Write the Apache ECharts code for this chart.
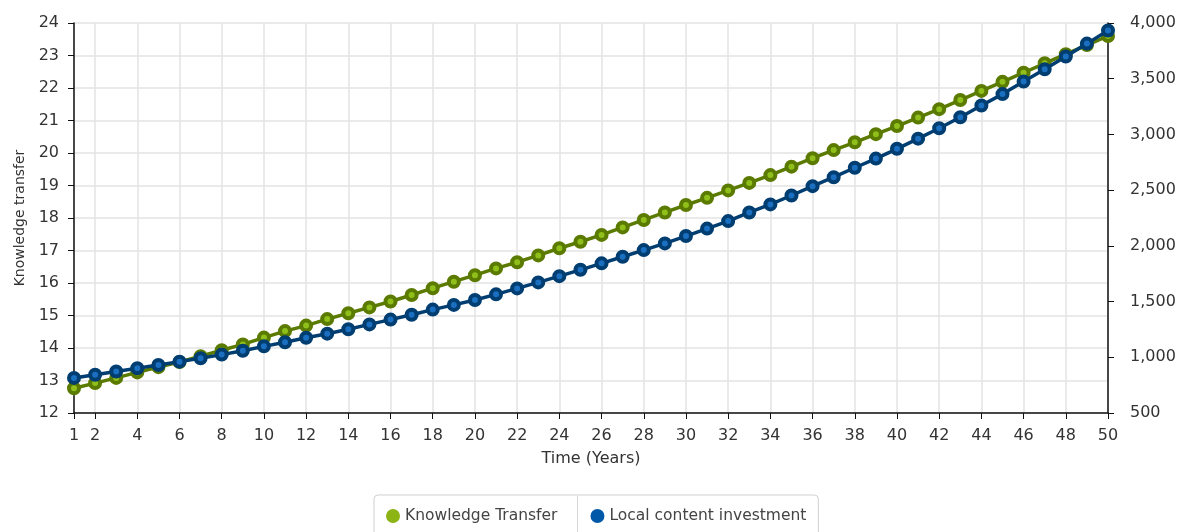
<!DOCTYPE html>
<html>
<head>
<meta charset="utf-8">
<title>Knowledge transfer vs local content investment</title>
<script src="https://cdn.jsdelivr.net/npm/echarts@6/dist/echarts.min.js"></script>
<style>
  html, body { margin: 0; padding: 0; background: #fff; }
  #chart { width: 1189px; height: 532px; }
</style>
</head>
<body>
<div id="chart"></div>
<script>
// data
const years = [];
for (let y = 1; y <= 50; y++) years.push(String(y));

const knowledgeTransfer = [
  12.76, 12.92, 13.08, 13.25, 13.41, 13.57, 13.75, 13.93, 14.11, 14.32,
  14.52, 14.69, 14.89, 15.07, 15.25, 15.43, 15.63, 15.84, 16.04, 16.24,
  16.45, 16.64, 16.85, 17.07, 17.27, 17.48, 17.71, 17.94, 18.17, 18.40,
  18.62, 18.85, 19.08, 19.32, 19.58, 19.84, 20.09, 20.33, 20.58, 20.83,
  21.09, 21.35, 21.63, 21.91, 22.19, 22.47, 22.76, 23.04, 23.32, 23.60
];

const localContent = [
  815, 843, 872, 901, 931, 961, 992, 1024, 1058, 1098,
  1135, 1175, 1212, 1252, 1295, 1338, 1382, 1428, 1470, 1514,
  1565, 1618, 1672, 1728, 1785, 1843, 1902, 1962, 2022, 2088,
  2155, 2222, 2300, 2372, 2452, 2536, 2616, 2701, 2783, 2871,
  2962, 3055, 3154, 3259, 3362, 3474, 3584, 3700, 3815, 3933
];

const fontFamily = "'DejaVu Sans', sans-serif";
const labelColor = "#333";
const gridColor = "#e3e3e3";

// show 1 and the even years
const everyOther = (i) => i === 0 || (i + 1) % 2 === 0;

const chart = echarts.init(document.getElementById("chart"));

const option = {
  animation: false,
  textStyle: { fontFamily: fontFamily },
  grid: {
    left: 74,
    right: 81,
    top: 23,
    bottom: 119,
  },
  legend: {
    left: 374,
    top: 495,
    padding: [13, 12, 16, 12],
    itemGap: 33,
    icon: "circle",
    itemWidth: 14,
    itemHeight: 14,
    borderColor: "#cfcfcf",
    borderWidth: 1,
    borderRadius: 4,
    textStyle: { fontSize: 15.5, color: "#444", fontFamily: fontFamily },
    data: [
      { name: "Knowledge Transfer", itemStyle: { color: "#8cb414", borderWidth: 0 } },
      { name: "Local content investment", itemStyle: { color: "#0058a8", borderWidth: 0 } },
    ],
  },
  graphic: [
    {
      type: "line",
      shape: { x1: 577.5, y1: 496, x2: 577.5, y2: 532 },
      style: { stroke: "#d6d6d6", lineWidth: 1 },
    },
  ],
  xAxis: {
    type: "category",
    data: years,
    boundaryGap: false,
    name: "Time (Years)",
    nameLocation: "middle",
    nameGap: 38,
    nameTextStyle: { fontSize: 16, color: labelColor },
    axisLine: { lineStyle: { color: "#111", width: 1.5 } },
    axisTick: { show: true, interval: everyOther, length: 6, lineStyle: { color: "#111" } },
    axisLabel: { interval: everyOther, fontSize: 16, color: labelColor, margin: 15 },
    splitLine: { show: true, interval: everyOther, lineStyle: { color: gridColor, width: 1.5 } },
  },
  yAxis: [
    {
      type: "value",
      min: 12,
      max: 24,
      interval: 1,
      name: "Knowledge transfer",
      nameLocation: "middle",
      nameGap: 46,
      nameRotate: 90,
      nameTextStyle: { fontSize: 14, color: labelColor },
      axisLine: { show: true, lineStyle: { color: "#111", width: 1.5 } },
      axisTick: { show: true, length: 6, lineStyle: { color: "#111" } },
      axisLabel: { fontSize: 16, color: labelColor, margin: 15 },
      splitLine: { show: true, lineStyle: { color: gridColor, width: 1.5 } },
    },
    {
      type: "value",
      min: 500,
      max: 4000,
      interval: 500,
      position: "right",
      axisLine: { show: true, lineStyle: { color: "#111", width: 1.5 } },
      axisTick: { show: true, length: 6, lineStyle: { color: "#111" } },
      axisLabel: {
        fontSize: 16,
        color: labelColor,
        margin: 22,
        formatter: (v) => v.toLocaleString("en-US"),
      },
      splitLine: { show: false },
    },
  ],
  series: [
    {
      name: "Knowledge Transfer",
      type: "line",
      yAxisIndex: 0,
      data: knowledgeTransfer,
      symbol: "circle",
      symbolSize: 10,
      lineStyle: { color: "#5a7a00", width: 3.5 },
      itemStyle: { color: "#8fbf1a", borderColor: "#5a7a00", borderWidth: 4 },
      z: 2,
    },
    {
      name: "Local content investment",
      type: "line",
      yAxisIndex: 1,
      data: localContent,
      symbol: "circle",
      symbolSize: 10,
      lineStyle: { color: "#003d70", width: 3.5 },
      itemStyle: { color: "#1a6fc0", borderColor: "#003d70", borderWidth: 4 },
      z: 3,
    },
  ],
};

chart.setOption(option);
</script>
</body>
</html>
